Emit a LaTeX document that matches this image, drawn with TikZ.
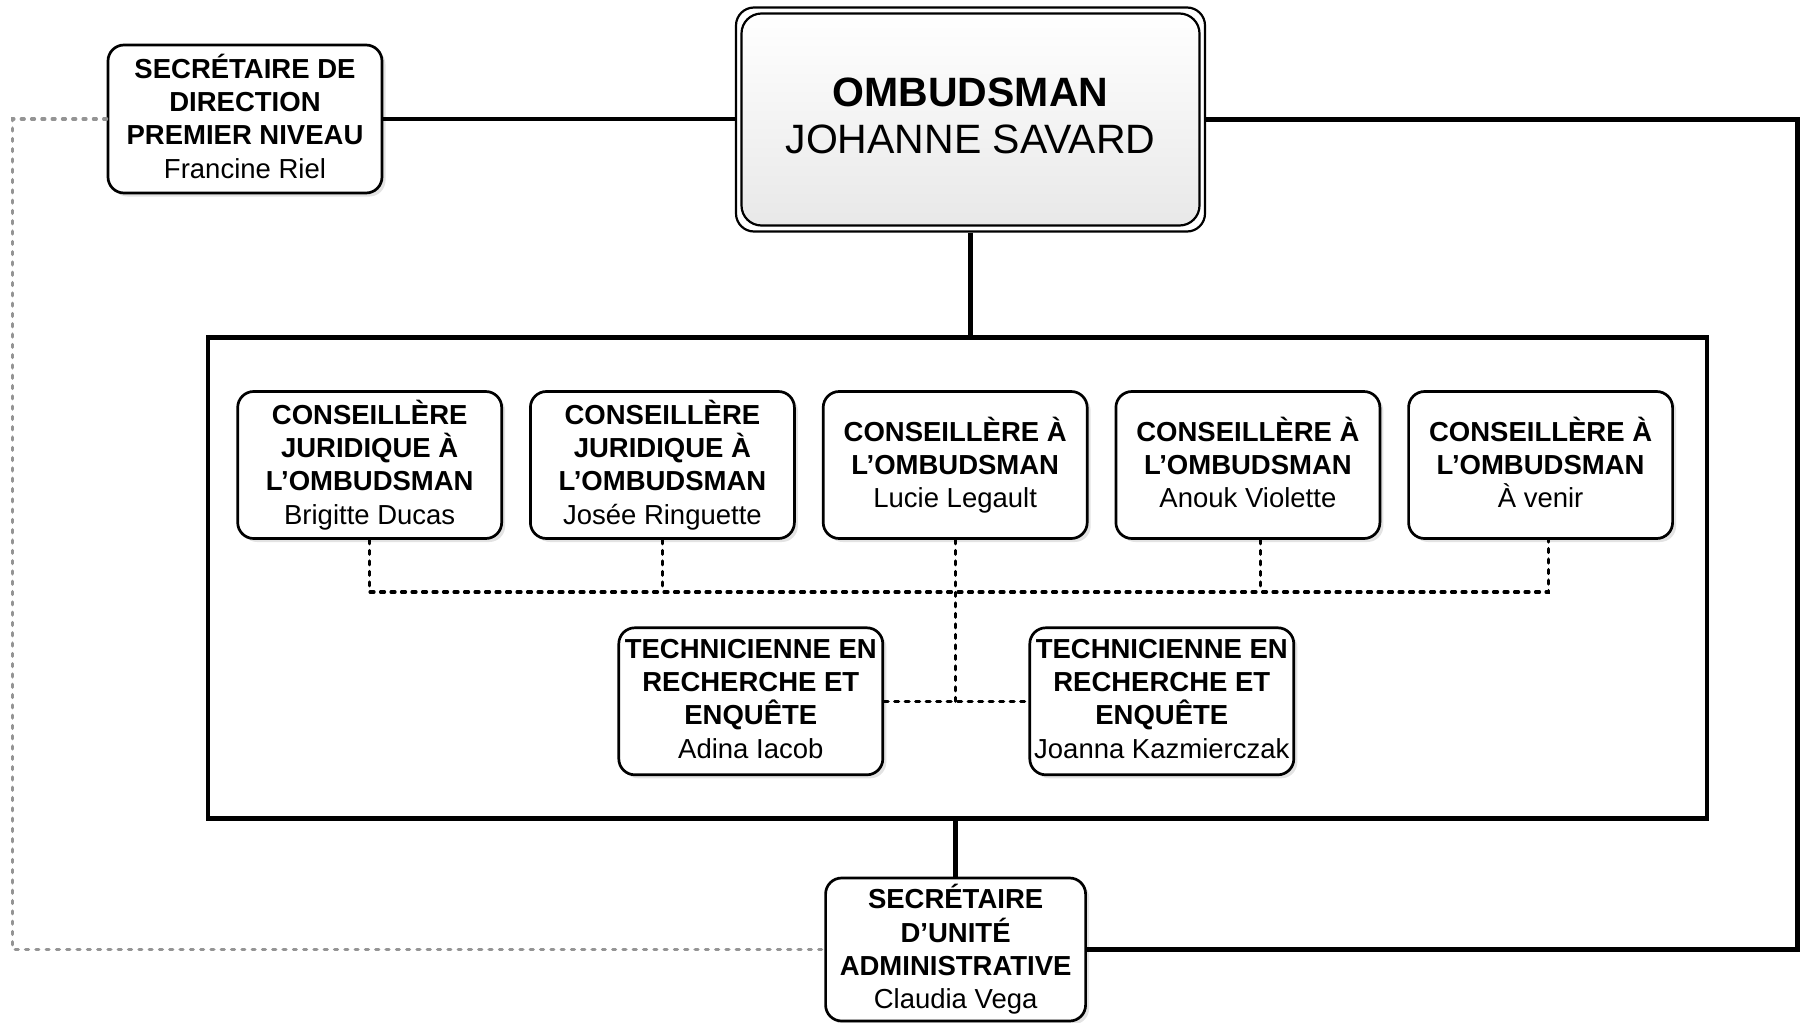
\documentclass[tikz,border=0pt]{standalone}
\usepackage{fontspec}
\setmainfont{Liberation Sans}
\usetikzlibrary{shadows,calc}
\newcommand\gdepth{\vphantom{g}}
\begin{document}
\begin{tikzpicture}[x=1pt,y=-1pt,
  box/.style={draw=black, line width=2.7pt, rounded corners=16pt, fill=white, inner sep=0pt,
    minimum width=264pt, minimum height=147pt, align=center,
    font=\fontsize{27.5pt}{33.3pt}\selectfont,
    drop shadow={shadow xshift=3.5pt, shadow yshift=-3.5pt, fill=black!22}},
  solidline/.style={line width=4.5pt},
  dotline/.style={line width=3.2pt, line cap=round, dash pattern=on 4pt off 6.5pt},
  greyline/.style={line width=3.2pt, line cap=round, dash pattern=on 3pt off 7.3pt, draw=black!42},
]
\useasboundingbox (0,0) rectangle (1800,1023);

% team container
\node[draw, line width=4.8pt, minimum width=1499pt, minimum height=481pt, inner sep=0pt] (team) at (957.4,578) {};

% ombudsman
\node[draw, line width=2.2pt, rounded corners=18pt, minimum width=469pt, minimum height=224pt, fill=white] (omb) at (970.5,119.5) {};
\node[draw, line width=2.2pt, rounded corners=20pt, minimum width=458pt, minimum height=212pt,
  top color=white, bottom color=black!9, align=center, inner sep=0pt,
  font=\fontsize{41pt}{47pt}\selectfont] (ombin) at (970.5,119.5)
  {\textbf{OMBUDSMAN}\\JOHANNE SAVARD\gdepth};

% secretaire de direction
\node[box, minimum width=274pt, minimum height=148pt] (sdd) at (245,119)
  {\textbf{SECRÉTAIRE DE}\\\textbf{DIRECTION}\\\textbf{PREMIER NIVEAU}\\Francine Riel\gdepth};

% counsellors
\node[box] (c1) at (369.7,465) {\textbf{CONSEILLÈRE}\\\textbf{JURIDIQUE À}\\\textbf{L’OMBUDSMAN}\\Brigitte Ducas\gdepth};
\node[box] (c2) at (662.4,465) {\textbf{CONSEILLÈRE}\\\textbf{JURIDIQUE À}\\\textbf{L’OMBUDSMAN}\\Josée Ringuette\gdepth};
\node[box] (c3) at (955.2,465) {\textbf{CONSEILLÈRE À}\\\textbf{L’OMBUDSMAN}\\Lucie Legault\gdepth};
\node[box] (c4) at (1247.9,465) {\textbf{CONSEILLÈRE À}\\\textbf{L’OMBUDSMAN}\\Anouk Violette\gdepth};
\node[box] (c5) at (1540.6,465) {\textbf{CONSEILLÈRE À}\\\textbf{L’OMBUDSMAN}\\À venir\gdepth};

% technicians
\node[box] (t1) at (750.8,701.3) {\textbf{TECHNICIENNE EN}\\\textbf{RECHERCHE ET}\\\textbf{ENQUÊTE}\\Adina Iacob\gdepth};
\node[box] (t2) at (1161.8,701.3) {\textbf{TECHNICIENNE EN}\\\textbf{RECHERCHE ET}\\\textbf{ENQUÊTE}\\Joanna Kazmierczak\gdepth};

% secretaire d'unite
\node[box, minimum width=260pt, minimum height=143pt] (sua) at (955.6,949.5)
  {\textbf{SECRÉTAIRE}\\\textbf{D’UNITÉ}\\\textbf{ADMINISTRATIVE}\\Claudia Vega\gdepth};

% coordinates
\coordinate (rc) at (1797.5,119.5);
\coordinate (lc) at (12.7,119);
\coordinate (bus) at (0,592);

% solid connectors
\draw[solidline] (sdd.east) -- (sdd.east -| omb.west);
\draw[solidline] (omb.east) -- (omb.east -| rc) |- (sua.east);
\draw[solidline] (omb.south) -- (omb.south |- team.north);
\draw[solidline] (sua.north |- team.south) -- (sua.north);

% grey dashed connector
\draw[greyline] (sdd.west) -- (sdd.west -| lc) |- (sua.west);

% dotted team connectors
\draw[dotline] (c1.south) -- (c1.south |- bus) -- ([xshift=8pt]c5.south |- bus) -- ([xshift=8pt]c5.south);
\draw[dotline] (c2.south) -- (c2.south |- bus);
\draw[dotline] ([xshift=12.5pt]c4.south) -- ([xshift=12.5pt]c4.south |- bus);
\draw[dotline] (c3.south) -- (c3.south |- t1.east);
\draw[dotline] (t1.east) -- (t2.west);
\end{tikzpicture}
\end{document}
